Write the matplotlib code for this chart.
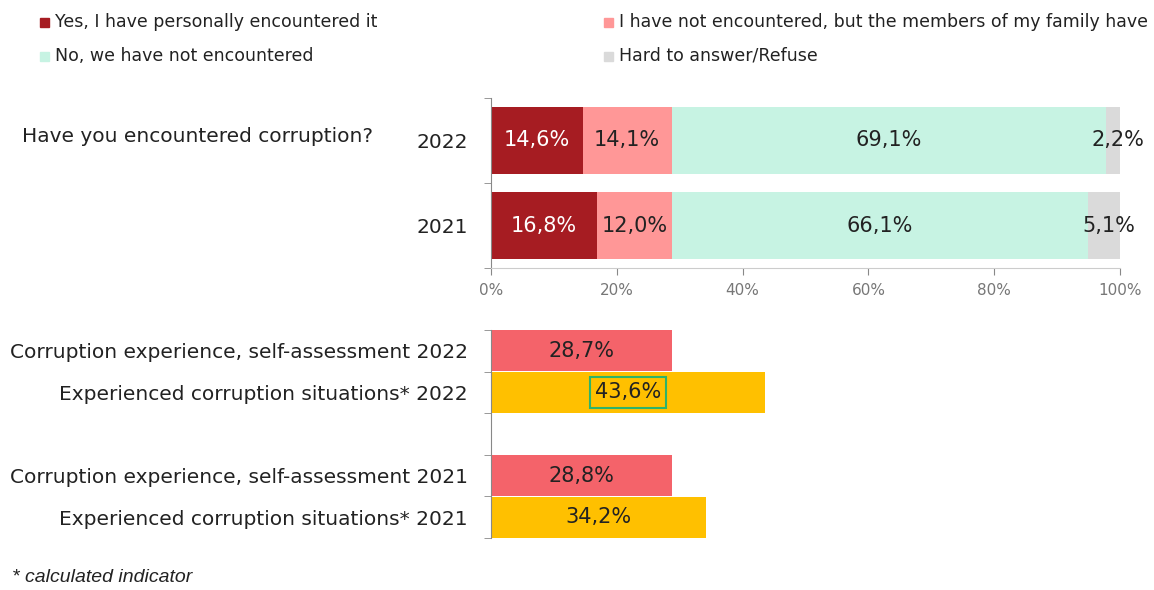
import matplotlib
matplotlib.use("Agg")
import matplotlib.pyplot as plt
from matplotlib.patches import Rectangle
import numpy as np

plt.rcParams['font.family'] = ['DejaVu Sans']

# ---- data ----
years = ["2022", "2021"]
series_names = ["Yes, I have personally encountered it",
                "I have not encountered, but the members of my family have",
                "No, we have not encountered",
                "Hard to answer/Refuse"]
yes_personal = [14.6, 16.8]
family_only = [14.1, 12.0]
not_encountered = [69.1, 66.1]
hard_to_answer = [2.2, 5.1]
question = "Have you encountered corruption?"

bottom_labels = ["Corruption experience, self-assessment 2022",
                 "Experienced corruption situations* 2022",
                 "",
                 "Corruption experience, self-assessment 2021",
                 "Experienced corruption situations* 2021"]
bottom_values = [28.7, 43.6, None, 28.8, 34.2]
xticks = [0, 20, 40, 60, 80, 100]
footnote = "* calculated indicator"

# ---- style ----
colors = ["#A61C22", "#FF9797", "#C7F3E3", "#DADADA"]
text_colors = ["white", "#222222", "#222222", "#222222"]
bcolors = ["#F4636A", "#FFC000", None, "#F4636A", "#FFC000"]
W, H = 1154, 590
fig = plt.figure(figsize=(W / 100, H / 100), dpi=100)

def fx(px):
    return px / W

def fy(py):
    return 1 - py / H

spine_c = "#888888"
LBL = 14.5
VAL = 15

# ---- top axes ----
ax = fig.add_axes([fx(491), fy(268), fx(1120) - fx(491), fy(98) - fy(268)])
stacks = [yes_personal, family_only, not_encountered, hard_to_answer]
ypos = np.arange(len(years))
left = np.zeros(len(years))
for i, vals in enumerate(stacks):
    vals = np.array(vals)
    ax.barh(ypos, vals, left=left, height=0.78, color=colors[i], label=series_names[i])
    for j, v in enumerate(vals):
        off = 0.8 if i == 3 else 0.0
        ax.text(left[j] + v / 2 + off, ypos[j], f"{v:.1f}%".replace(".", ","),
                ha="center", va="center", fontsize=VAL, color=text_colors[i])
    left = left + vals
ax.set_xlim(0, 100)
ax.set_ylim(len(years) - 0.5, -0.5)
ax.set_yticks(ypos)
ax.set_yticklabels(years, fontsize=LBL, color="#222222")
ax.set_yticks(np.arange(-0.5, len(years)), minor=True)
ax.tick_params(axis="y", which="major", length=0, pad=16.5)
ax.tick_params(axis="y", which="minor", length=5, color=spine_c)
ax.set_xticks(xticks)
ax.set_xticklabels([f"{t}%" for t in xticks], fontsize=11, color="#777777")
ax.tick_params(axis="x", length=5, color=spine_c, pad=6)
for s in ["top", "right"]:
    ax.spines[s].set_visible(False)
ax.spines["left"].set_color(spine_c)
ax.spines["bottom"].set_color("#CCCCCC")
fig.text(fx(22), fy(137), question, fontsize=LBL, color="#222222", va="center", ha="left")

# ---- bottom axes ----
bx = fig.add_axes([fx(491), fy(538), fx(1120) - fx(491), fy(330) - fy(538)])
bpos = np.arange(len(bottom_labels))
for j, v in enumerate(bottom_values):
    if v is None:
        continue
    bx.barh(bpos[j], v, height=0.98, color=bcolors[j])
    lbl = f"{v:.1f}%".replace(".", ",")
    if j == 1:
        bx.text(v / 2, bpos[j], lbl, ha="center", va="center", fontsize=VAL, color="#222222",
                bbox=dict(boxstyle="square,pad=0.25", fc="none", ec="#2DB36A", lw=1.5))
    else:
        bx.text(v / 2, bpos[j], lbl, ha="center", va="center", fontsize=VAL, color="#222222")
bx.set_xlim(0, 100)
bx.set_ylim(len(bottom_labels) - 0.5, -0.5)
bx.set_yticks(bpos)
bx.set_yticklabels(bottom_labels, fontsize=LBL, color="#222222")
bx.set_yticks(np.arange(-0.5, len(bottom_labels)), minor=True)
bx.tick_params(axis="y", which="major", length=0, pad=16.5)
bx.tick_params(axis="y", which="minor", length=5, color=spine_c)
bx.set_xticks([])
for s in ["top", "right", "bottom"]:
    bx.spines[s].set_visible(False)
bx.spines["left"].set_color(spine_c)

# ---- legend ----
leg_pos = [(40, 22), (604, 22), (40, 56), (604, 56)]
for (px, py), name, c in zip(leg_pos, series_names, colors):
    fig.add_artist(Rectangle((fx(px), fy(py + 5)), fx(9), 9 / H, color=c, transform=fig.transFigure))
    fig.text(fx(px + 15), fy(py), name, fontsize=12.5, color="#222222", va="center", ha="left")

fig.text(fx(12), fy(578), footnote, fontsize=14, style="italic", color="#222222",
         family="Liberation Sans", va="center", ha="left")

fig.savefig("out.png", dpi=100)
